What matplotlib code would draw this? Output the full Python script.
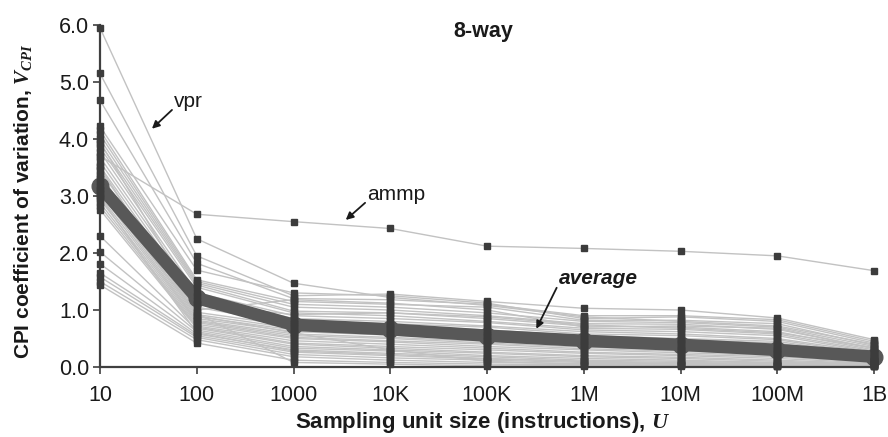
import matplotlib
matplotlib.use("Agg")
import matplotlib.pyplot as plt
import numpy as np

plt.rcParams['font.family'] = ['Liberation Sans', 'DejaVu Sans']
plt.rcParams['mathtext.fontset'] = 'custom'
plt.rcParams['mathtext.it'] = 'Liberation Serif:italic:bold'
plt.rcParams['mathtext.rm'] = 'Liberation Serif:bold'

# Sampling unit sizes (instructions)
unit_sizes = [1e1, 1e2, 1e3, 1e4, 1e5, 1e6, 1e7, 1e8, 1e9]
tick_labels = ["10", "100", "1000", "10K", "100K", "1M", "10M", "100M", "1B"]
y_ticks = [0, 1, 2, 3, 4, 5, 6]
y_tick_labels = ["0.0", "1.0", "2.0", "3.0", "4.0", "5.0", "6.0"]

# Per-benchmark CPI coefficient of variation
vpr  = [5.95, 2.25, 1.47, 1.22, 1.08, 0.88, 0.80, 0.72, 0.40]
ammp = [3.70, 2.68, 2.55, 2.43, 2.12, 2.08, 2.03, 1.95, 1.69]
b03 = [5.15, 1.95, 1.25, 1.28, 1.15, 1.03, 1.00, 0.86, 0.48]
b04 = [4.68, 1.82, 1.20, 1.18, 1.10, 0.90, 0.90, 0.83, 0.45]
b05 = [4.22, 1.70, 1.30, 1.25, 1.12, 0.85, 0.88, 0.80, 0.42]
b06 = [4.15, 1.53, 1.15, 1.10, 1.05, 0.82, 0.82, 0.76, 0.38]
b07 = [4.08, 1.50, 1.10, 1.05, 0.95, 0.80, 0.78, 0.70, 0.36]
b08 = [4.00, 1.47, 1.05, 1.00, 0.90, 0.76, 0.75, 0.66, 0.33]
b09 = [3.92, 1.44, 0.98, 0.95, 0.85, 0.72, 0.70, 0.62, 0.30]
b10 = [3.85, 1.40, 0.95, 0.90, 0.80, 0.68, 0.66, 0.58, 0.28]
b11 = [3.78, 1.30, 0.90, 0.85, 0.78, 0.65, 0.62, 0.55, 0.26]
b12 = [3.68, 1.25, 0.85, 0.80, 0.72, 0.62, 0.58, 0.50, 0.25]
b13 = [3.60, 1.18, 0.80, 0.76, 0.70, 0.58, 0.55, 0.48, 0.22]
b14 = [3.52, 1.12, 0.78, 0.72, 0.65, 0.55, 0.50, 0.45, 0.20]
b15 = [3.45, 1.05, 0.75, 0.70, 0.62, 0.52, 0.48, 0.42, 0.18]
b16 = [3.38, 0.96, 0.72, 0.66, 0.58, 0.50, 0.45, 0.38, 0.16]
b17 = [3.30, 0.92, 0.68, 0.62, 0.55, 0.46, 0.42, 0.35, 0.15]
b18 = [3.24, 0.88, 0.65, 0.60, 0.52, 0.44, 0.38, 0.32, 0.14]
b19 = [3.18, 0.85, 0.62, 0.56, 0.48, 0.40, 0.35, 0.30, 0.13]
b20 = [3.12, 0.82, 0.58, 0.52, 0.45, 0.38, 0.32, 0.28, 0.12]
b21 = [3.06, 0.80, 0.55, 0.50, 0.42, 0.35, 0.30, 0.25, 0.11]
b22 = [3.00, 0.78, 0.52, 0.46, 0.40, 0.32, 0.28, 0.22, 0.10]
b23 = [2.94, 0.75, 0.50, 0.44, 0.36, 0.30, 0.25, 0.20, 0.09]
b24 = [2.88, 0.72, 0.46, 0.40, 0.33, 0.26, 0.22, 0.18, 0.08]
b25 = [2.82, 0.70, 0.42, 0.36, 0.30, 0.24, 0.20, 0.15, 0.07]
b26 = [2.76, 0.68, 0.40, 0.33, 0.26, 0.20, 0.17, 0.12, 0.06]
b27 = [2.30, 0.65, 0.36, 0.30, 0.24, 0.18, 0.15, 0.10, 0.05]
b28 = [2.02, 0.62, 0.33, 0.28, 0.20, 0.15, 0.12, 0.08, 0.05]
b29 = [1.81, 0.58, 0.30, 0.24, 0.18, 0.12, 0.10, 0.07, 0.04]
b30 = [1.65, 0.55, 0.26, 0.20, 0.14, 0.10, 0.08, 0.06, 0.04]
b31 = [1.58, 0.52, 0.22, 0.16, 0.12, 0.08, 0.06, 0.05, 0.03]
b32 = [1.50, 0.48, 0.18, 0.12, 0.08, 0.06, 0.05, 0.04, 0.03]
b33 = [1.44, 0.42, 0.12, 0.08, 0.05, 0.04, 0.03, 0.02, 0.02]
b34 = [3.95, 1.10, 0.92, 0.95, 0.88, 0.74, 0.68, 0.60, 0.34]
b35 = [3.35, 1.00, 1.18, 1.12, 1.00, 0.70, 0.72, 0.68, 0.32]
b36 = [3.10, 0.94, 0.08, 0.05, 0.02, 0.02, 0.01, 0.01, 0.01]
b37 = [3.50, 0.90, 0.60, 0.30, 0.10, 0.05, 0.03, 0.02, 0.02]
b38 = [2.98, 0.60, 0.28, 0.22, 0.15, 0.10, 0.05, 0.03, 0.02]

benchmarks = [vpr, ammp, b03, b04, b05, b06, b07, b08, b09, b10, b11, b12,
              b13, b14, b15, b16, b17, b18, b19, b20, b21, b22, b23, b24,
              b25, b26, b27, b28, b29, b30, b31, b32, b33, b34, b35, b36,
              b37, b38]

average = [3.17, 1.21, 0.74, 0.66, 0.55, 0.46, 0.39, 0.30, 0.18]

TXT = '#1a1a1a'
fig = plt.figure(figsize=(8.88, 4.37), dpi=100)
ax = fig.add_axes([100/888, 70/437, 774/888, 342/437])

for s in benchmarks:
    ax.plot(unit_sizes, s, color='#c2c2c2', lw=1.0, zorder=2, clip_on=False)

ax.plot(unit_sizes, average, color='#585858', lw=9, solid_capstyle='round',
        marker='o', ms=12, zorder=4, clip_on=False)

for s in benchmarks:
    ax.plot(unit_sizes, s, ls='none', marker='s', ms=3.8, color='#3c3c3c',
            mec='#3c3c3c', zorder=5, clip_on=False)

ax.set_xscale('log')
ax.set_xlim(1e1, 1e9)
ax.set_ylim(0, 6)
ax.set_xticks(unit_sizes)
ax.set_xticklabels(tick_labels)
ax.minorticks_off()
ax.set_yticks(y_ticks)
ax.set_yticklabels(y_tick_labels)

for sp in ['top', 'right']:
    ax.spines[sp].set_visible(False)
for sp in ['left', 'bottom']:
    ax.spines[sp].set_color('#404040')
    ax.spines[sp].set_linewidth(1.6)
ax.tick_params(axis='both', direction='out', length=5, width=1.2,
               color='#404040', labelsize=15.5, labelcolor=TXT)
ax.tick_params(axis='x', pad=8)
ax.tick_params(axis='y', pad=3)

ax.set_xlabel("Sampling unit size (instructions), $U$", fontsize=16,
              fontweight='bold', color=TXT)
ax.xaxis.set_label_coords(0.494, -0.127)
ax.set_ylabel("CPI coefficient of variation, $V_{CPI}$", fontsize=15,
              fontweight='bold', color=TXT)
ax.yaxis.set_label_coords(-0.085, 0.485)

ax.text(10**4.96, 5.88, "8-way", fontsize=15.5, fontweight='bold',
        ha='center', va='center', color=TXT)

ax.text(10**1.91, 4.66, "vpr", fontsize=15, ha='center', va='center', color=TXT)
ax.annotate("", xy=(10**1.537, 4.18), xytext=(10**1.744, 4.51),
            arrowprops=dict(arrowstyle='-|>', color=TXT, lw=1.3,
                            shrinkA=0, shrinkB=0, mutation_scale=11))

ax.text(10**4.06, 3.03, "ammp", fontsize=15, ha='center', va='center', color=TXT)
ax.annotate("", xy=(10**3.54, 2.58), xytext=(10**3.74, 2.88),
            arrowprops=dict(arrowstyle='-|>', color=TXT, lw=1.3,
                            shrinkA=0, shrinkB=0, mutation_scale=11))

ax.text(10**6.15, 1.55, "average", fontsize=15, fontweight='bold',
        fontstyle='italic', ha='center', va='center', color=TXT)
ax.annotate("", xy=(10**5.51, 0.67), xytext=(10**5.72, 1.39),
            arrowprops=dict(arrowstyle='-|>', color=TXT, lw=1.3,
                            shrinkA=0, shrinkB=0, mutation_scale=11))

fig.savefig("out.png", dpi=100)
